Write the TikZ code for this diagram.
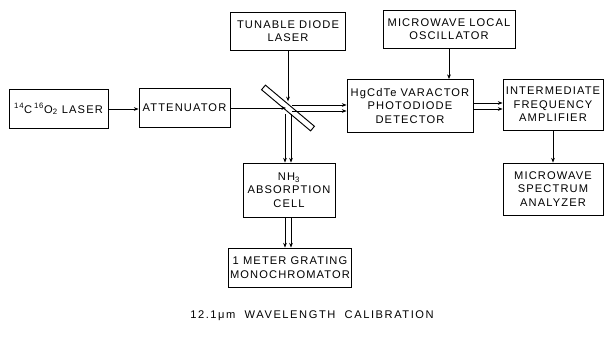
\documentclass[tikz,border=0pt]{standalone}
\usepackage{fontspec}
\setmainfont{Liberation Sans}[LetterSpace=10]
\usetikzlibrary{calc,arrows.meta}
\tikzset{
  blk/.style={draw, thick, align=center, inner sep=1pt, font=\fontsize{9.5}{11.5}\selectfont},
  sig/.style={->, semithick}
}
\begin{document}
\begin{tikzpicture}[x=0.03cm, y=-0.03cm, >={Stealth[length=4pt,width=3.2pt]}]
  \useasboundingbox (0,0) rectangle (604,352);

  % Blocks
  \node[blk, minimum width=99*0.03cm, minimum height=39*0.03cm] (laser) at (58.5,109) {\textsuperscript{14}C\,\textsuperscript{16}O\textsubscript{2} LASER};
  \node[blk, minimum width=91*0.03cm, minimum height=39*0.03cm] (att) at (184.5,108) {ATTENUATOR};
  \node[blk, minimum width=115*0.03cm, minimum height=38*0.03cm] (tdl) at (288,31) {TUNABLE DIODE\\LASER};
  \node[blk, minimum width=132*0.03cm, minimum height=38*0.03cm] (mlo) at (449,29) {MICROWAVE LOCAL\\OSCILLATOR};
  \node[blk, minimum width=126*0.03cm, minimum height=53*0.03cm] (det) at (410,106) {HgCdTe VARACTOR\\PHOTODIODE\\DETECTOR};
  \node[blk, minimum width=100*0.03cm, minimum height=51*0.03cm] (ifa) at (553,104.5) {INTERMEDIATE\\FREQUENCY\\AMPLIFIER};
  \node[blk, minimum width=100*0.03cm, minimum height=52*0.03cm] (msa) at (553,189) {MICROWAVE\\SPECTRUM\\ANALYZER};
  \node[blk, minimum width=92*0.03cm, minimum height=54*0.03cm] (cell) at (289,190) {NH\textsubscript{3}\\ABSORPTION\\CELL};
  \node[blk, minimum width=120*0.03cm, minimum height=39*0.03cm] (mono) at (290,267.5) {1 METER GRATING\\MONOCHROMATOR};

  % Beam splitter
  \node[draw, thick, fill=white, minimum width=64*0.03cm, minimum height=6*0.03cm, inner sep=0pt, rotate=-40] (bs) at (288,108) {};

  % Single paths
  \draw[sig] (laser.east) -- (laser.east -| att.west);
  \draw[sig, shorten >=0.06cm] (att.east) -- (att.east -| bs.center);
  \draw[sig, shorten >=0.2cm] (tdl.south) -- (bs.center);
  \draw[sig] (mlo.south) -- (mlo.south |- det.north);
  \draw[sig] (ifa.south) -- (msa.north);

  % Double paths
  \foreach \d in {-3,3}{
    \draw[sig] ($(bs.center)+(4,\d)$) -- ($(bs.center -| det.west)+(0,\d)$);
    \draw[sig] ($(bs.center)+(\d,6)$) -- ($(bs.center |- cell.north)+(\d,0)$);
    \draw[sig] ($(bs.center |- cell.south)+(\d,0)$) -- ($(bs.center |- mono.north)+(\d,0)$);
    \draw[sig] ($(det.east)+(0,\d)$) -- ($(det.east -| ifa.west)+(0,\d)$);
  }

  % Caption
  \node[font=\fontsize{9.5}{11.5}\selectfont\addfontfeature{LetterSpace=14}] (cap) at (312,316) {12.1μm \ WAVELENGTH \ CALIBRATION};
\end{tikzpicture}
\end{document}
